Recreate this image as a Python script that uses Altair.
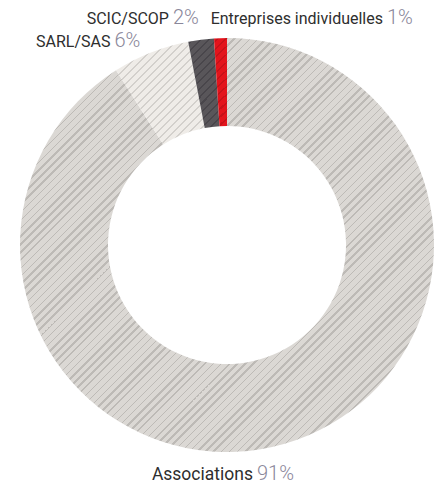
import math
import altair as alt
import pandas as pd

# ---- data ----
categories = ["Associations", "SARL/SAS", "SCIC/SCOP", "Entreprises individuelles"]
values = [91, 6, 2, 1]
percent_labels = ["91%", "6%", "2%", "1%"]

# ---- styling ----
base_colors = ["#dbd8d4", "#efece8", "#59565a", "#e3141c"]
stripe_colors = ["#bdbab6", "#d3d0cc", "#49464b", "#c71118"]
NAME_COLOR = "#2e2e2e"
PCT_COLOR = "#8a879a"
NAME_FONT = "Roboto, 'Liberation Sans', sans-serif"
PCT_FONT = "Roboto, Lato, sans-serif"

OUTER = 207
INNER = 119
STEP = 8.0   # horizontal distance between hatch lines (px)
LINE = 2.0   # horizontal thickness of a hatch line (px)

total = sum(values)
starts, acc = [], 0
for v in values:
    starts.append(acc)
    acc += v
ends = [s + v for s, v in zip(starts, values)]
mids = [(s + e) / 2 for s, e in zip(starts, ends)]

df = pd.DataFrame({
    "category": categories,
    "value": values,
    "pct": percent_labels,
    "start": starts,
    "end": ends,
    "mid": mids,
})


def sector_bbox(a0, a1, r0, r1):
    pts = []
    for a in (a0, a1):
        for r in (r0, r1):
            pts.append((r * math.sin(a), -r * math.cos(a)))
    for k in range(5):
        a = k * math.pi / 2
        if a0 - 1e-9 <= a <= a1 + 1e-9:
            pts.append((r1 * math.sin(a), -r1 * math.cos(a)))
    xs = [p[0] for p in pts]
    ys = [p[1] for p in pts]
    return min(xs), min(ys), max(xs), max(ys)


def hatch(bbox, base, stripe):
    x0, y0, x1, y1 = bbox
    w, h = x1 - x0, y1 - y0
    k = (w + h) / (w * w + h * h)
    s0 = x0 + y0
    span = w + h
    stops = [{"offset": 0, "color": base}]
    m = math.ceil(s0 / STEP)
    while True:
        c = m * STEP
        a = (c - s0) / span
        if a >= 1:
            break
        b = min((c + LINE - s0) / span, 1)
        a = round(max(a, 0), 6)
        b = round(b, 6)
        stops += [
            {"offset": a, "color": base},
            {"offset": a, "color": stripe},
            {"offset": b, "color": stripe},
            {"offset": b, "color": base},
        ]
        m += 1
    stops.append({"offset": 1, "color": base})
    return {"gradient": "linear", "x1": 0, "y1": 0,
            "x2": round(w * k, 6), "y2": round(h * k, 6), "stops": stops}


theta_scale = alt.Scale(domain=[0, total], range=[0, 2 * math.pi])
base = alt.Chart(df)

layers = []
for i, cat in enumerate(categories):
    a0 = starts[i] / total * 2 * math.pi
    a1 = ends[i] / total * 2 * math.pi
    fill = hatch(sector_bbox(a0, a1, INNER, OUTER), base_colors[i], stripe_colors[i])
    layers.append(
        base.transform_filter(alt.datum.category == cat)
        .mark_arc(radius=OUTER, innerRadius=INNER, fill=fill)
        .encode(
            theta=alt.Theta("start:Q", scale=theta_scale, stack=False),
            theta2="end:Q",
        )
    )

# label offsets relative to the outer edge at each slice's middle
label_style = {
    "Associations": (-29.8, 36.5, 17.5, 20),
    "SARL/SAS": (-38.3, -5.5, 16, 20),
    "SCIC/SCOP": (-30.1, -15.6, 16, 20),
    "Entreprises individuelles": (164.5, -14.1, 16, 20),
}

for cat in categories:
    dx, dy, nsize, psize = label_style[cat]
    sel = base.transform_filter(alt.datum.category == cat)
    layers.append(
        sel.mark_text(radius=OUTER, align="right", baseline="alphabetic",
                      dx=dx - 2, dy=dy, font=NAME_FONT, fontSize=nsize,
                      color=NAME_COLOR)
        .encode(theta=alt.Theta("mid:Q", scale=theta_scale, stack=False),
                text="category:N")
    )
    layers.append(
        sel.mark_text(radius=OUTER, align="left", baseline="alphabetic",
                      dx=dx + 2, dy=dy, font=PCT_FONT, fontSize=psize,
                      fontWeight=300, color=PCT_COLOR)
        .encode(theta=alt.Theta("mid:Q", scale=theta_scale, stack=False),
                text="pct:N")
    )

chart = (
    alt.layer(*layers)
    .properties(width=416, height=466, autosize=alt.AutoSizeParams(type="none"),
                padding={"left": 11, "top": 4, "right": 0, "bottom": 4})
    .configure_view(strokeWidth=0)
)

chart.save("out.html", embed_options={"renderer": "svg", "actions": False})
